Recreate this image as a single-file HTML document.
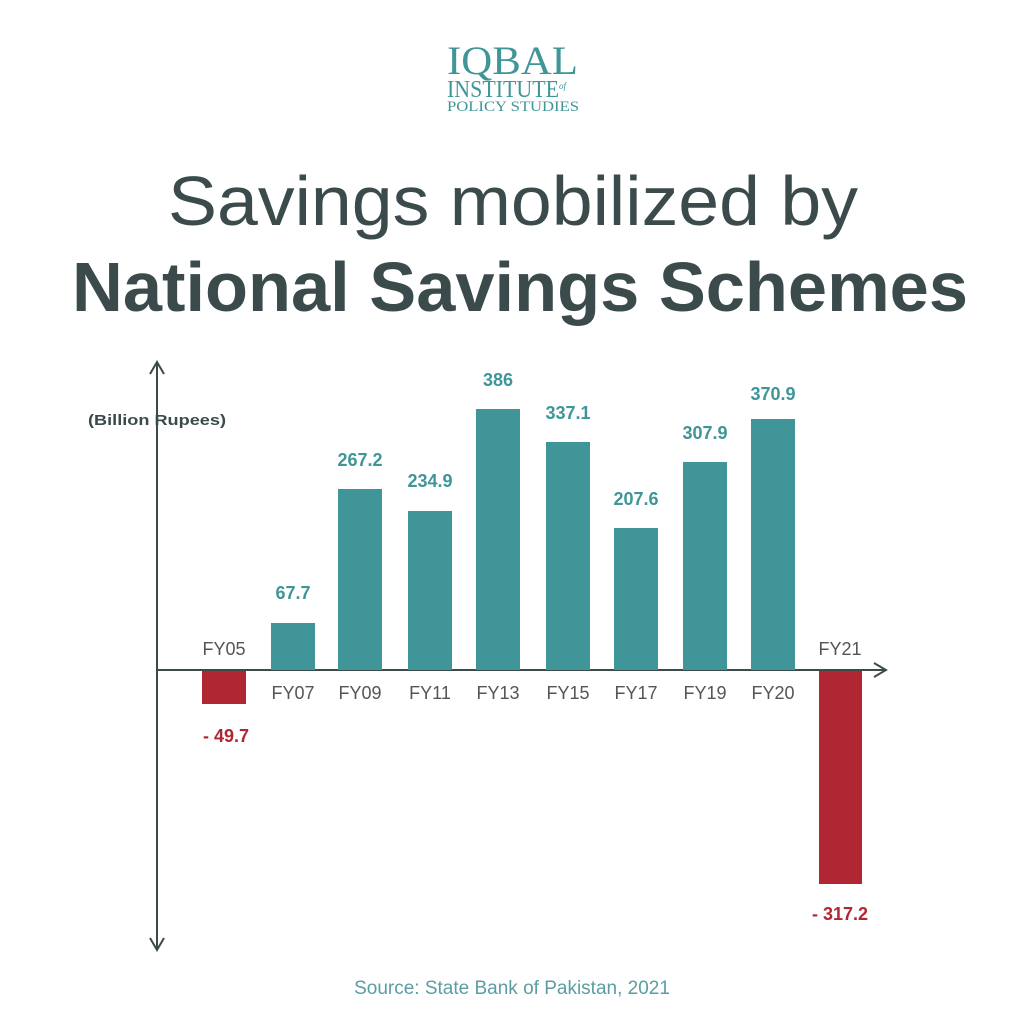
<!DOCTYPE html>
<html><head><style>
body{margin:0;background:#fff;}
</style></head><body>
<svg width="1024" height="1024" xmlns="http://www.w3.org/2000/svg" style="display:block">
<rect width="1024" height="1024" fill="#fff"/>
<g fill="#3f9598" font-family="Liberation Serif, serif">
<text x="447" y="74" font-size="40" textLength="131" lengthAdjust="spacingAndGlyphs">IQBAL</text>
<text x="447" y="97" font-size="24" textLength="112" lengthAdjust="spacingAndGlyphs">INSTITUTE</text>
<text x="559" y="89" font-size="9" font-style="italic">of</text>
<text x="447" y="111" font-size="15" textLength="132" lengthAdjust="spacingAndGlyphs">POLICY STUDIES</text>
</g>
<g fill="#3b4b4c" font-family="Liberation Sans, sans-serif">
<text x="168" y="225" font-size="70" textLength="690" lengthAdjust="spacingAndGlyphs">Savings mobilized by</text>
<text x="72" y="311" font-size="70" font-weight="bold" textLength="896" lengthAdjust="spacingAndGlyphs">National Savings Schemes</text>
</g>
<g stroke="#3b4b4c" stroke-width="2" fill="none">
<line x1="157" y1="364" x2="157" y2="948"/>
<polyline points="150,374 157,362 164,374"/>
<polyline points="150,938 157,950 164,938"/>
<line x1="157" y1="670" x2="884" y2="670"/>
<polyline points="874,663 886,670 874,677"/>
</g>
<text x="88" y="425" font-family="Liberation Sans, sans-serif" font-size="15" font-weight="bold" fill="#3b4b4c" textLength="138" lengthAdjust="spacingAndGlyphs">(Billion Rupees)</text>
<g fill="#3f9598">
<rect x="271" y="623" width="44" height="47"/>
<rect x="338" y="489" width="44" height="181"/>
<rect x="408" y="511" width="44" height="159"/>
<rect x="476" y="409" width="44" height="261"/>
<rect x="546" y="442" width="44" height="228"/>
<rect x="614" y="528" width="44" height="142"/>
<rect x="683" y="462" width="44" height="208"/>
<rect x="751" y="419" width="44" height="251"/>
</g>
<g fill="#b02632">
<rect x="202" y="671" width="44" height="33"/>
<rect x="819" y="671" width="43" height="213"/>
</g>
<g font-family="Liberation Sans, sans-serif" font-size="18" font-weight="bold" fill="#3f9598" text-anchor="middle">
<text x="293" y="599">67.7</text>
<text x="360" y="466">267.2</text>
<text x="430" y="487">234.9</text>
<text x="498" y="386">386</text>
<text x="568" y="419">337.1</text>
<text x="636" y="505">207.6</text>
<text x="705" y="439">307.9</text>
<text x="773" y="400">370.9</text>
</g>
<g font-family="Liberation Sans, sans-serif" font-size="18" font-weight="bold" fill="#b02632" text-anchor="middle">
<text x="226" y="742">- 49.7</text>
<text x="840" y="920">- 317.2</text>
</g>
<g font-family="Liberation Sans, sans-serif" font-size="18" fill="#555" text-anchor="middle">
<text x="224" y="655">FY05</text>
<text x="293" y="699">FY07</text>
<text x="360" y="699">FY09</text>
<text x="430" y="699">FY11</text>
<text x="498" y="699">FY13</text>
<text x="568" y="699">FY15</text>
<text x="636" y="699">FY17</text>
<text x="705" y="699">FY19</text>
<text x="773" y="699">FY20</text>
<text x="840" y="655">FY21</text>
</g>
<text x="512" y="994" font-family="Liberation Sans, sans-serif" font-size="19" fill="#5a9ea3" text-anchor="middle">Source: State Bank of Pakistan, 2021</text>
</svg>
</body></html>
